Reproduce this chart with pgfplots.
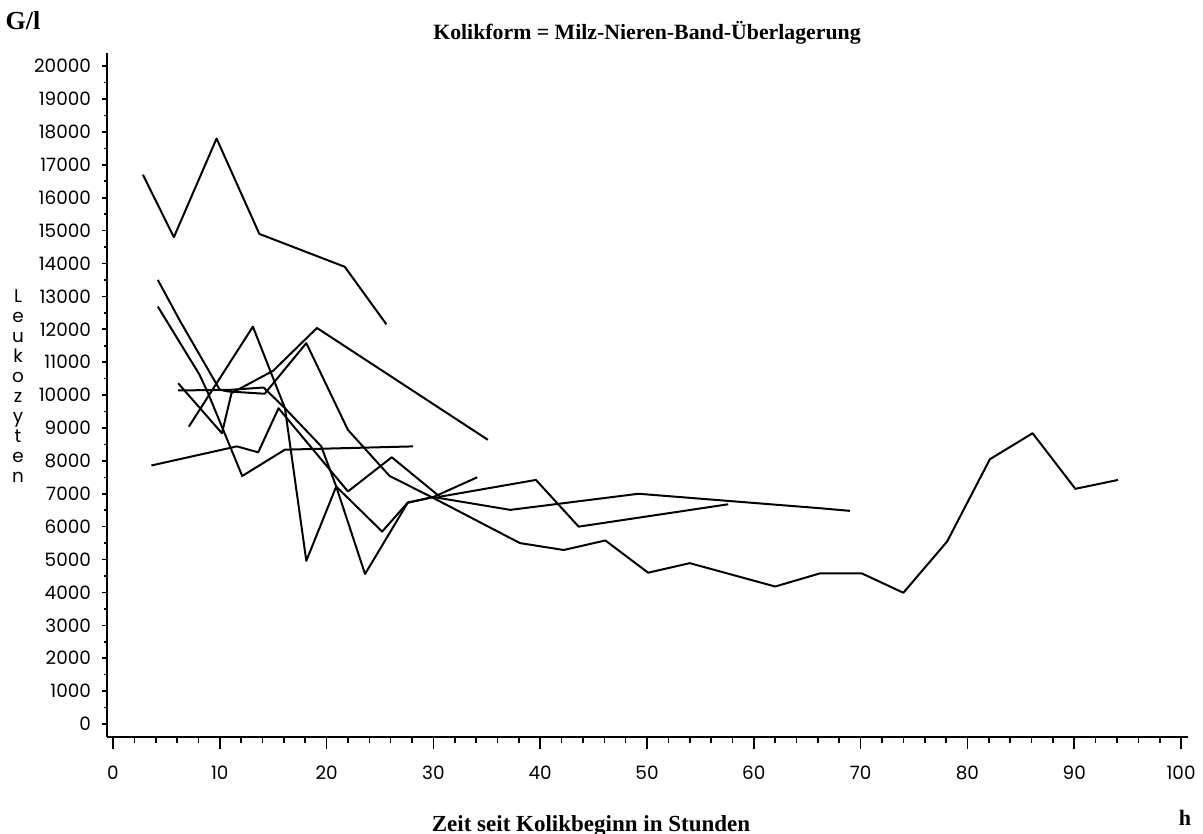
\documentclass[border=0pt]{standalone}
\usepackage{fontspec}
\setmainfont{Liberation Serif}
\newfontfamily\tickfont{Poppins}
\usepackage{pgfplots}
\pgfplotsset{compat=1.18}

\pgfplotsset{
  leukframe/.style={
    at={(53.5pt,48.5pt)}, anchor=south west,
    scale only axis, width=540.5pt, height=342pt,
    xmin=-0.56, xmax=100.65, ymin=-395, ymax=20400,
    axis line style={line width=1.4pt},
    tick align=outside,
    tick style={black, line width=0.8pt},
    clip=false,
  },
  patient/.style={black, line width=1pt, line join=round},
}

\begin{document}
\begin{tikzpicture}
\path[use as bounding box] (0,0) rectangle (601.5pt,417pt);

% x axis, data
\begin{axis}[
  leukframe,
  axis x line*=bottom, axis y line*=left,
  xtick={0,10,...,100}, minor x tick num=4,
  ytick=\empty,
  major tick length=6pt, minor tick length=3pt,
  xticklabel style={font=\tickfont\fontsize{9.2}{10}\selectfont, yshift=-5pt},
  /pgf/number format/assume math mode=true,
]
\addplot[patient] coordinates {
  (2.8,16700) (5.7,14800) (9.7,17800) (13.7,14900) (21.7,13900) (25.6,12150)
};
\addplot[patient] coordinates {
  (4.2,13500) (6.3,12240) (10.0,10160) (10.8,10110) (14.2,10040) (18.1,11580)
  (22.0,8940) (25.9,7540) (30.0,6870) (38.1,5500) (42.2,5290) (46.1,5580)
  (50.1,4600) (54.0,4890) (62.0,4180) (66.2,4580) (70.1,4580) (74.0,3990)
  (78.1,5550) (82.1,8050) (86.1,8840) (90.1,7150) (94.1,7420)
};
\addplot[patient] coordinates {
  (4.2,12690) (8.1,10620) (8.9,10060) (12.1,7540) (16.1,8340) (28.1,8440)
};
\addplot[patient] coordinates {
  (6.1,10360) (10.2,8840) (11.1,10060) (15.0,10740) (19.1,12040) (35.1,8640)
};
\addplot[patient] coordinates {
  (7.1,9040) (13.1,12080) (16.1,9600) (18.1,4960) (20.9,7220) (23.6,4560)
  (27.6,6730) (30.0,6900) (34.1,7500)
};
\addplot[patient] coordinates {
  (6.1,10140) (11.0,10160) (14.1,10230) (16.1,9600) (19.5,8440) (20.9,7220)
  (25.2,5850) (27.6,6730) (30.0,6900) (37.2,6510) (49.2,7000) (66.2,6560)
  (69.0,6480)
};
\addplot[patient] coordinates {
  (3.6,7860) (11.6,8440) (13.6,8260) (15.5,9600) (22.0,7070) (26.1,8110)
  (30.6,6910) (39.6,7420) (43.6,6000) (57.6,6680)
};
\end{axis}

% y ticks (shorter than the x ticks)
\begin{axis}[
  leukframe,
  axis x line=none, axis y line*=left,
  xtick=\empty,
  ytick={0,1000,...,20000}, minor y tick num=1,
  major tick length=2.5pt, minor tick length=1.5pt,
  scaled y ticks=false,
  yticklabel style={font=\tickfont\fontsize{9.2}{10}\selectfont, xshift=-2pt},
  /pgf/number format/.cd, set thousands separator={}, assume math mode=true,
]
\end{axis}

\begin{scope}[x=0.5pt, y=-0.5pt, yshift=417pt]
  \node[font=\bfseries\fontsize{13}{14}\selectfont] at (23,21) {G/l};
  \node[font=\bfseries\fontsize{10.9}{12}\selectfont] at (647,33)
    {Kolikform = Milz-Nieren-Band-Überlagerung};
  \node[font=\bfseries\fontsize{11.5}{12}\selectfont] at (591,826)
    {Zeit seit Kolikbeginn in Stunden};
  \node[font=\bfseries\fontsize{11}{12}\selectfont] at (1185,818) {h};
  \foreach \c [count=\i] in {L,e,u,k,o,z,y,t,e,n}
    \node[font=\tickfont\fontsize{9.2}{10}\selectfont, anchor=base]
      at (18, {303+(\i-1)*20}) {\c};
\end{scope}
\end{tikzpicture}
\end{document}
